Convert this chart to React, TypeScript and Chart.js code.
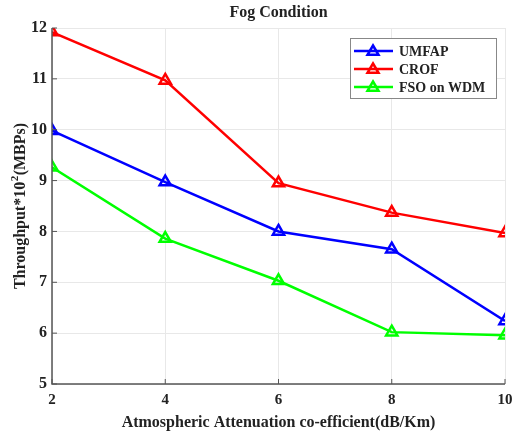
import React, { useEffect, useRef } from "react";
import { Chart, registerables } from "chart.js";

Chart.register(...registerables);

const attenuation = [2, 4, 6, 8, 10];
const umfap = [9.98, 8.97, 8.0, 7.65, 6.24];
const crof = [11.92, 10.97, 8.95, 8.37, 7.97];
const fsoWdm = [9.26, 7.86, 7.03, 6.02, 5.96];
const seriesNames = ["UMFAP", "CROF", "FSO on WDM"];
const seriesColors = ["#0000ff", "#ff0000", "#00ff00"];
const yTicks = [5, 6, 7, 8, 9, 10, 11, 12];
const xTicks = [2, 4, 6, 8, 10];

const FONT = "'Liberation Serif', 'Times New Roman', serif";

const decorPlugin = {
  id: "decor",
  afterDraw(chart: any) {
    const { ctx, chartArea } = chart;
    const { left, right, top, bottom } = chartArea;
    const xs = chart.scales.x;
    const ys = chart.scales.y;
    ctx.save();
    // axes lines
    ctx.strokeStyle = "#555555";
    ctx.lineWidth = 1.5;
    ctx.beginPath();
    ctx.moveTo(left, top);
    ctx.lineTo(left, bottom);
    ctx.lineTo(right, bottom);
    ctx.stroke();
    // inward ticks
    ctx.lineWidth = 1;
    ctx.beginPath();
    yTicks.forEach((v) => {
      const y = ys.getPixelForValue(v);
      ctx.moveTo(left, y);
      ctx.lineTo(left + 5, y);
    });
    xTicks.forEach((v) => {
      const x = xs.getPixelForValue(v);
      ctx.moveTo(x, bottom);
      ctx.lineTo(x, bottom - 5);
    });
    ctx.stroke();

    // title
    ctx.fillStyle = "#222222";
    ctx.font = `bold 16px ${FONT}`;
    ctx.textAlign = "center";
    ctx.textBaseline = "middle";
    ctx.fillText("Fog Condition", (left + right) / 2, 12.5);

    // y-axis title with superscript
    const part1 = "Throughput*10";
    const sup = "2";
    const part2 = "(MBPs)";
    ctx.font = `bold 16px ${FONT}`;
    const w1 = ctx.measureText(part1).width;
    const w3 = ctx.measureText(part2).width;
    ctx.font = `bold 11px ${FONT}`;
    const w2 = ctx.measureText(sup).width;
    const total = w1 + w2 + w3 + 1;
    ctx.translate(21, (top + bottom) / 2);
    ctx.rotate(-Math.PI / 2);
    ctx.textAlign = "left";
    ctx.textBaseline = "middle";
    let px = -total / 2;
    ctx.font = `bold 16px ${FONT}`;
    ctx.fillText(part1, px, 0);
    px += w1 + 0.5;
    ctx.font = `bold 11px ${FONT}`;
    ctx.fillText(sup, px, -6);
    px += w2 + 0.5;
    ctx.font = `bold 16px ${FONT}`;
    ctx.fillText(part2, px, 0);
    ctx.setTransform(1, 0, 0, 1, 0, 0);

    // legend
    const bx = 350, by = 38, bw = 146, bh = 60;
    ctx.fillStyle = "#ffffff";
    ctx.fillRect(bx, by, bw, bh);
    ctx.strokeStyle = "#888888";
    ctx.lineWidth = 1;
    ctx.strokeRect(bx + 0.5, by + 0.5, bw, bh);
    seriesNames.forEach((name, i) => {
      const y = 51 + i * 18;
      ctx.strokeStyle = seriesColors[i];
      ctx.lineWidth = 2.5;
      ctx.beginPath();
      ctx.moveTo(354, y);
      ctx.lineTo(393, y);
      ctx.stroke();
      const cx = 373, r = 5.5;
      ctx.beginPath();
      ctx.moveTo(cx, y - r);
      ctx.lineTo(cx + r, y + r * 0.7);
      ctx.lineTo(cx - r, y + r * 0.7);
      ctx.closePath();
      ctx.lineWidth = 2.5;
      ctx.stroke();
      ctx.fillStyle = "#222222";
      ctx.font = `bold 14px ${FONT}`;
      ctx.textAlign = "left";
      ctx.textBaseline = "middle";
      ctx.fillText(name, 399, y + 1);
    });
    ctx.restore();
  },
};

export default function App() {
  const ref = useRef<HTMLCanvasElement | null>(null);
  useEffect(() => {
    document.body.style.margin = "0";
    const canvas = ref.current;
    if (!canvas) return;
    const datasets = [umfap, crof, fsoWdm].map((vals, i) => ({
      label: seriesNames[i],
      data: attenuation.map((x, j) => ({ x, y: vals[j] })),
      borderColor: seriesColors[i],
      backgroundColor: "rgba(255,255,255,0)",
      borderWidth: 2.5,
      pointStyle: "triangle",
      pointRadius: 6.5,
      pointBorderWidth: 2.5,
      pointBorderColor: seriesColors[i],
      pointBackgroundColor: "rgba(255,255,255,0)",
      tension: 0,
    }));
    const chart = new Chart(canvas, {
      type: "line",
      data: { datasets },
      plugins: [decorPlugin],
      options: {
        animation: false,
        responsive: false,
        layout: { padding: { top: 28, right: 6, left: 0, bottom: 0 } },
        plugins: {
          legend: { display: false },
          tooltip: { enabled: false },
          title: { display: false },
        },
        scales: {
          x: {
            type: "linear",
            min: 2,
            max: 10,
            afterBuildTicks: (s: any) => {
              s.ticks = xTicks.map((v) => ({ value: v }));
            },
            afterFit: (s: any) => {
              s.height = 53;
              s.paddingLeft = 0;
              s.paddingRight = 0;
            },
            grid: { color: "#e8e8e8", drawTicks: false },
            border: { display: false },
            ticks: {
              color: "#222222",
              font: { family: FONT, size: 15, weight: "bold" },
              padding: 7,
              maxRotation: 0,
            },
            title: {
              display: true,
              text: "Atmospheric Attenuation co-efficient(dB/Km)",
              color: "#222222",
              font: { family: FONT, size: 16, weight: "bold" },
              padding: { top: 0, bottom: 5 },
            },
          },
          y: {
            type: "linear",
            min: 5,
            max: 12,
            afterBuildTicks: (s: any) => {
              s.ticks = yTicks.map((v) => ({ value: v }));
            },
            afterFit: (s: any) => {
              s.width = 52;
              s.paddingTop = 0;
              s.paddingBottom = 0;
            },
            grid: { color: "#e8e8e8", drawTicks: false },
            border: { display: false },
            ticks: {
              color: "#222222",
              font: { family: FONT, size: 16, weight: "bold" },
              padding: 5,
            },
            title: { display: false },
          },
        },
      },
    });
    return () => chart.destroy();
  }, []);
  return (
    <div style={{ width: 514, height: 437, background: "#ffffff" }}>
      <canvas ref={ref} width={514} height={437} style={{ display: "block" }} />
    </div>
  );
}
